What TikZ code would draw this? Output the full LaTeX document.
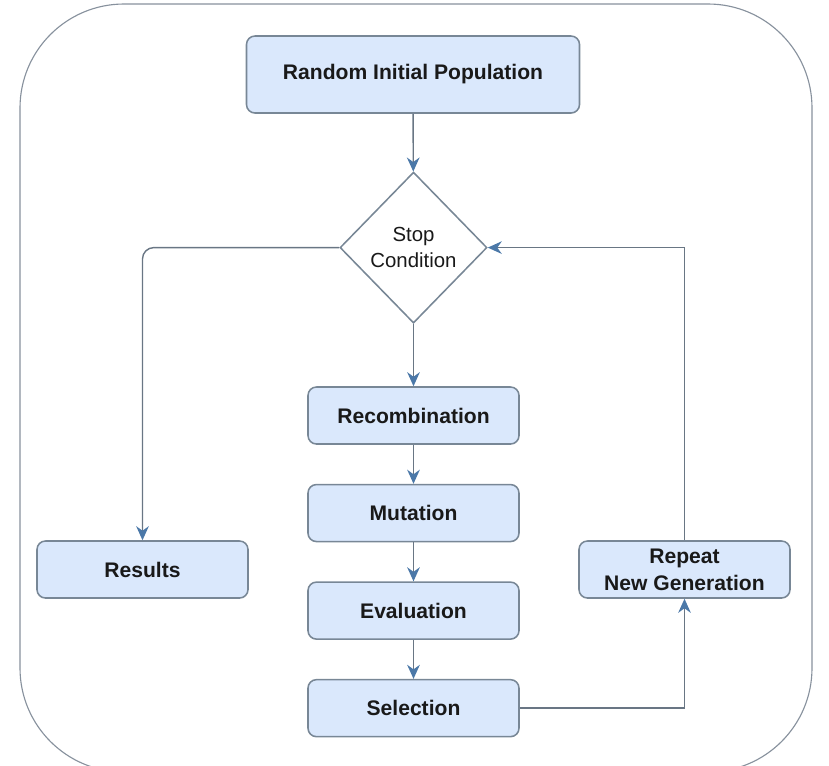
\documentclass[tikz,border=0pt]{standalone}
\usepackage{fontspec}
\setmainfont{Liberation Sans}
\usepackage{tikz}
\usetikzlibrary{arrows.meta,positioning,shapes.geometric}
\definecolor{boxfill}{RGB}{218,232,252}
\definecolor{boxline}{RGB}{120,135,150}
\definecolor{flowline}{RGB}{105,118,132}
\definecolor{tipblue}{RGB}{75,120,168}
\definecolor{txt}{RGB}{25,25,25}

\begin{document}
\begin{tikzpicture}[
    >={Stealth[length=10pt, width=9pt, color=tipblue]},
    stepbox/.style={draw=boxline, line width=1.1pt, fill=boxfill, rounded corners=6pt,
      minimum width=5.275cm, minimum height=1.425cm, align=center, text=txt,
      font=\fontsize{15}{19}\selectfont\bfseries},
    decision/.style={diamond, draw=boxline, line width=1.1pt, fill=white, inner sep=0pt,
      minimum width=3.675cm, minimum height=3.775cm, align=center, text=txt,
      font=\fontsize{14.5}{18}\selectfont},
    flow/.style={->, draw=flowline, line width=1pt}]
  \useasboundingbox (0,0) rectangle (20.725,-19.125);
  % outer frame (bottom runs off the page)
  \draw[flowline!80, line width=0.8pt, rounded corners=2.6cm] (0.5,-0.1) rectangle (20.3,-19.3);
  % nodes
  \node[stepbox, minimum width=8.325cm, minimum height=1.925cm] (init) at (10.325,-1.8625) {Random Initial Population};
  \node[decision] (stop) at (10.3375,-6.19) {Stop\\Condition};
  \node[stepbox] (recomb) at (10.3375,-10.3875) {Recombination};
  \node[stepbox, below=0.975cm of recomb] (mut) {Mutation};
  \node[stepbox, below=0.975cm of mut] (eval) {Evaluation};
  \node[stepbox, below=0.975cm of eval] (sel) {Selection};
  \node[stepbox] (res) at (3.5625,-14.2375) {Results};
  \node[stepbox] (rep) at (17.1125,-14.2375) {Repeat\\New Generation};
  % connectors
  \draw[flow] (init) -- (stop);
  \draw[flow] (stop) -- (recomb);
  \draw[flow] (recomb) -- (mut);
  \draw[flow] (mut) -- (eval);
  \draw[flow] (eval) -- (sel);
  \draw[flow, rounded corners=8pt] (stop.west) -| (res.north);
  \draw[flow] (sel.east) -| (rep.south);
  \draw[flow] (rep.north) |- (stop.east);
\end{tikzpicture}
\end{document}
